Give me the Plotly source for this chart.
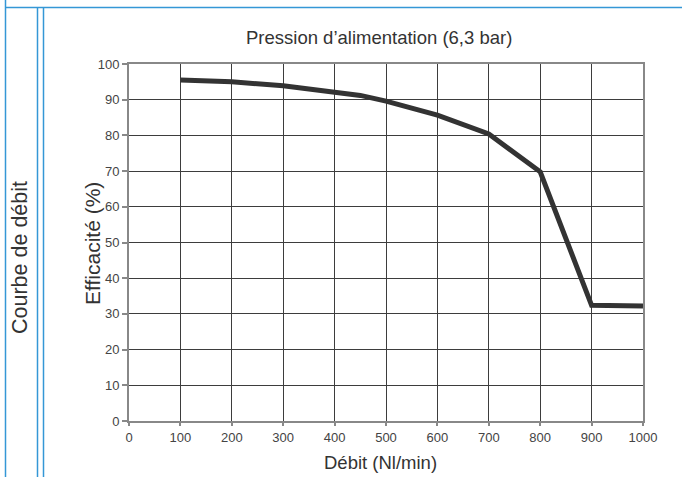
import plotly.graph_objects as go

flow = [100, 200, 300, 400, 450, 500, 600, 700, 800, 900, 1000]
efficiency = [95.5, 95.0, 93.9, 92.2, 91.2, 89.6, 85.7, 80.4, 69.8, 32.4, 32.2]
x_ticks = [0, 100, 200, 300, 400, 500, 600, 700, 800, 900, 1000]
y_ticks = [0, 10, 20, 30, 40, 50, 60, 70, 80, 90, 100]

W, H = 682, 477
L, R, T, B = 129, 39, 64, 56
PW, PH = W - L - R, H - T - B

def px(x):
    return (x - L) / PW

def py(y):
    return (H - B - y) / PH

FONT = "Liberation Sans, Arial, Helvetica, sans-serif"
BLUE = "#3497d6"

fig = go.Figure()
fig.add_trace(go.Scatter(
    x=flow, y=efficiency, mode="lines",
    line=dict(color="#333333", width=5),
    hoverinfo="x+y", showlegend=False,
))

axis_common = dict(
    showgrid=True, gridcolor="#3d3d3d", gridwidth=1,
    showline=True, linecolor="#888888", linewidth=2, mirror=True,
    ticks="outside", tickcolor="#888888", tickwidth=1.5,
    tickfont=dict(family=FONT, size=13, color="#444444"),
    zeroline=False, fixedrange=True,
)

fig.update_xaxes(range=[0, 1000], tickvals=x_ticks, ticklen=3, **axis_common)
fig.update_yaxes(range=[0, 100], tickvals=y_ticks, ticklen=5, **axis_common)

annotations = [
    dict(text="Pression d’alimentation (6,3 bar)", x=px(379), y=py(37),
         font=dict(size=18.5, color="#333333", family=FONT)),
    dict(text="Débit (Nl/min)", x=px(380), y=py(462),
         font=dict(size=18.5, color="#333333", family=FONT)),
    dict(text="Efficacité (%)", x=px(92), y=py(244), textangle=-90,
         font=dict(size=21, color="#333333", family=FONT)),
    dict(text="Courbe de débit", x=px(20), y=py(258), textangle=-90,
         font=dict(size=21.5, color="#333333", family=FONT)),
]
for a in annotations:
    a.update(xref="paper", yref="paper", showarrow=False,
             xanchor="center", yanchor="middle")

shapes = [
    dict(type="line", x0=px(5.5), x1=px(5.5), y0=py(0), y1=py(477)),
    dict(type="line", x0=px(5.5), x1=px(682), y0=py(7.5), y1=py(7.5)),
    dict(type="line", x0=px(37.5), x1=px(37.5), y0=py(7.5), y1=py(477)),
    dict(type="line", x0=px(43.5), x1=px(43.5), y0=py(7.5), y1=py(477)),
]
for s in shapes:
    s.update(xref="paper", yref="paper", line=dict(color=BLUE, width=1.5), layer="above")

fig.update_layout(
    width=W, height=H,
    margin=dict(l=L, r=R, t=T, b=B),
    paper_bgcolor="white", plot_bgcolor="white",
    annotations=annotations, shapes=shapes,
    font=dict(family=FONT),
)

fig.write_html(
    "out.html",
    config={"displayModeBar": False},
    post_script="document.body.style.margin='0';document.body.style.overflow='hidden';",
)
